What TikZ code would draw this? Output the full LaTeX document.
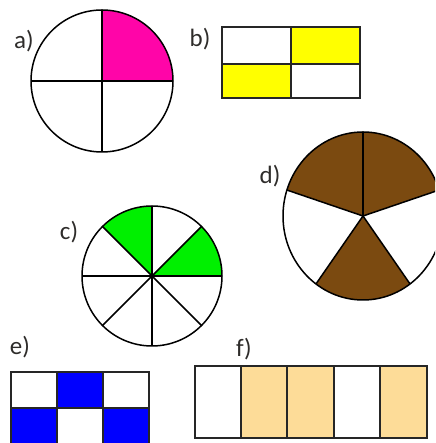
\documentclass[tikz,border=0pt]{standalone}
\usepackage{fontspec}
\setmainfont{Carlito}
\definecolor{pinkc}{HTML}{FF05A8}
\definecolor{yellowc}{HTML}{FFFF00}
\definecolor{brownc}{HTML}{7B4A10}
\definecolor{greenc}{HTML}{00F000}
\definecolor{bluec}{HTML}{0000FF}
\definecolor{tanc}{HTML}{FDDC98}
\definecolor{labelc}{HTML}{2E2C2A}
\tikzset{
  part/.style={draw=black, line width=1.5pt},
  boxline/.style={draw=black!85, line width=1.7pt},
  lbl/.style={text=labelc, font=\fontsize{25}{27}\selectfont, inner sep=0pt}
}
\begin{document}
\begin{tikzpicture}[x=1pt,y=1pt]
\useasboundingbox (0,0) rectangle (435,443);
\clip (0,0) rectangle (435,443);
% a)
\coordinate (A) at (102,362);
\fill[pinkc] (A) -- ++(0:71) arc (0:90:71) -- cycle;
\draw[part] (A) circle (71);
\draw[part] (A) ++(90:71) coordinate (At) -- (A) -- ++(270:71) coordinate (Ab);
\draw[part] (A) ++(180:71) coordinate (Al) -- (A) -- ++(0:71) coordinate (Ar);
\node[lbl] (la) at (24,402) {a)};
% b)
\fill[yellowc] (291,379) rectangle (360,416);
\fill[yellowc] (222,345) rectangle (291,379);
\draw[boxline] (222,345) rectangle (360,416);
\draw[boxline] (291,345) -- (291,416);
\draw[boxline] (222,379) -- (360,379);
\node[lbl] (lb) at (200,404) {b)};
% c)
\coordinate (C) at (152,167);
\fill[greenc] (C) -- ++(0:70) arc (0:45:70) -- cycle;
\fill[greenc] (C) -- ++(90:70) arc (90:135:70) -- cycle;
\draw[part] (C) circle (70);
\foreach \ang in {0,45,...,315} {\draw[part] (C) -- ++(\ang:70);}
\node[lbl] (lc) at (69,211) {c)};
% d)
\coordinate (D) at (363,227);
\begin{scope}[shift={(D)}, xscale=80/84]
  \fill[brownc] (0,0) -- (18:84) arc (18:162:84) -- cycle;
  \fill[brownc] (0,0) -- (234:84) arc (234:306:84) -- cycle;
  \draw[part] (0,0) circle (84);
  \foreach \ang in {18,90,162,234,306} {\draw[part] (0,0) -- (\ang:84);}
\end{scope}
\node[lbl] (ld) at (270,267) {d)};
% e)
\fill[bluec] (57,35) rectangle (103,71);
\fill[bluec] (11,-1) rectangle (57,35);
\fill[bluec] (103,-1) rectangle (149,35);
\draw[boxline] (11,-1) rectangle (149,71);
\draw[boxline] (11,35) -- (149,35);
\draw[boxline] (57,-1) -- (57,71);
\draw[boxline] (103,-1) -- (103,71);
\node[lbl] (le) at (20,96) {e)};
% f)
\fill[tanc] (241,5) rectangle (334,77);
\fill[tanc] (380,5) rectangle (427,77);
\draw[boxline] (195,5) rectangle (427,77);
\foreach \xx in {241,287,334,380} {\draw[boxline] (\xx,5) -- (\xx,77);}
\node[lbl] (lf) at (244,94) {f)};
\end{tikzpicture}
\end{document}
